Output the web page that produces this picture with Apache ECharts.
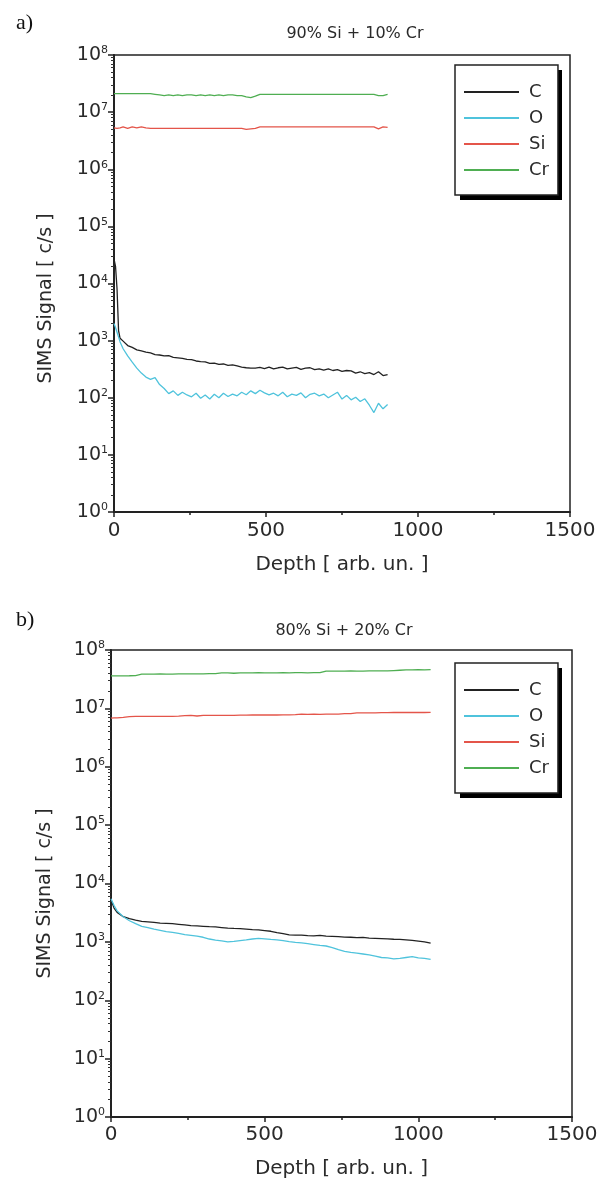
<!DOCTYPE html>
<html>
<head>
<meta charset="utf-8">
<script src="https://cdn.jsdelivr.net/npm/echarts@6/dist/echarts.min.js"></script>
<style>
html,body{margin:0;padding:0;background:#fff;}
#chart{width:607px;height:1179px;}
</style>
</head>
<body>
<div id="chart"></div>
<script>
// ---------- data: panel a) 90% Si + 10% Cr ----------
const depthA = [0,5,10,15,20,30,45,60,75,90,105,120,135,150,165,180,195,210,225,240,255,270,285,300,315,330,345,360,375,390,405,420,435,450,465,480,495,510,525,540,555,570,585,600,615,630,645,660,675,690,705,720,735,750,765,780,795,810,825,840,855,870,885,900];
const cA = [27000,20000,8000,1500,1100,980,820,760,690,660,630,610,570,560,540,545,510,500,490,470,465,440,430,425,400,405,385,390,370,375,360,345,335,330,330,340,325,345,320,335,345,320,330,340,315,330,335,310,320,305,320,300,310,290,300,295,270,285,265,275,255,285,245,255];
const oA = [2000,1700,1400,1150,950,720,540,420,330,270,230,210,225,170,145,118,132,110,125,112,104,120,98,112,95,115,100,120,105,116,108,125,113,132,118,135,122,112,120,108,125,104,116,110,122,100,115,120,108,116,100,112,125,95,110,92,102,86,96,74,55,80,64,76];
const siA = [5.3e6,5.5e6,5.2e6,5.5e6,5.3e6,5.5e6,5.2e6,5.5e6,5.3e6,5.5e6,5.3e6,5.2e6,
  5.2e6,5.2e6,5.2e6,5.2e6,5.2e6,5.2e6,5.2e6,5.2e6,5.2e6,5.2e6,5.2e6,5.2e6,5.2e6,5.2e6,5.2e6,5.2e6,5.2e6,5.2e6,5.2e6,5.2e6,
  5.0e6,5.1e6,5.2e6,5.5e6,
  5.5e6,5.5e6,5.5e6,5.5e6,5.5e6,5.5e6,5.5e6,5.5e6,5.5e6,5.5e6,5.5e6,5.5e6,5.5e6,5.5e6,5.5e6,5.5e6,5.5e6,5.5e6,5.5e6,5.5e6,5.5e6,5.5e6,5.5e6,5.5e6,
  5.5e6,5.1e6,5.5e6,5.4e6];
const crA = [2.1e7,2.1e7,2.1e7,2.1e7,2.1e7,2.1e7,2.1e7,2.1e7,2.1e7,2.1e7,2.1e7,2.1e7,
  2.05e7,2.0e7,1.95e7,2.0e7,1.95e7,2.0e7,1.95e7,2.0e7,2.0e7,1.95e7,2.0e7,1.95e7,2.0e7,1.95e7,2.0e7,1.95e7,2.0e7,2.0e7,1.95e7,1.95e7,
  1.85e7,1.8e7,1.9e7,2.05e7,
  2.05e7,2.05e7,2.05e7,2.05e7,2.05e7,2.05e7,2.05e7,2.05e7,2.05e7,2.05e7,2.05e7,2.05e7,2.05e7,2.05e7,2.05e7,2.05e7,2.05e7,2.05e7,2.05e7,2.05e7,2.05e7,2.05e7,2.05e7,2.05e7,
  2.05e7,1.95e7,1.95e7,2.05e7];

// ---------- data: panel b) 80% Si + 20% Cr ----------
const depthB = [0,10,20,40,60,80,100,120,140,160,180,200,220,240,260,280,300,320,340,360,380,400,420,440,460,480,500,520,540,560,580,600,620,640,660,680,700,720,740,760,780,800,820,840,860,880,900,920,940,960,980,1000,1020,1040];
const cB = [5200,3800,3200,2700,2500,2350,2250,2200,2150,2100,2080,2050,2000,1950,1900,1880,1850,1820,1800,1760,1720,1700,1690,1660,1620,1600,1560,1520,1440,1380,1320,1300,1310,1280,1270,1290,1250,1240,1230,1210,1200,1180,1190,1160,1150,1140,1130,1110,1100,1080,1060,1030,1000,950];
const oB = [5500,4200,3400,2700,2300,2050,1850,1750,1650,1580,1500,1450,1400,1330,1290,1250,1200,1120,1070,1040,1000,1020,1050,1080,1120,1150,1130,1100,1080,1050,1010,980,960,930,900,870,850,800,740,690,660,640,620,600,570,540,530,510,520,540,560,530,520,500];
const siB = [6.8e6,6.9e6,6.9e6,7.0e6,7.2e6,7.3e6,7.3e6,7.3e6,7.3e6,7.3e6,
  7.3e6,7.3e6,7.35e6,7.5e6,7.6e6,7.4e6,7.6e6,7.6e6,7.6e6,7.6e6,
  7.6e6,7.6e6,7.65e6,7.65e6,7.7e6,7.7e6,7.7e6,7.7e6,7.7e6,7.75e6,
  7.75e6,7.8e6,8.0e6,7.9e6,8.0e6,7.9e6,8.0e6,8.0e6,8.0e6,8.1e6,
  8.1e6,8.4e6,8.4e6,8.4e6,8.4e6,8.45e6,8.45e6,8.5e6,8.5e6,8.5e6,
  8.5e6,8.5e6,8.5e6,8.55e6];
const crB = [3.6e7,3.6e7,3.6e7,3.6e7,3.62e7,3.65e7,
  3.85e7,3.85e7,3.85e7,3.9e7,3.85e7,3.85e7,3.9e7,3.9e7,3.9e7,3.9e7,3.9e7,3.95e7,3.95e7,
  4.05e7,4.05e7,4.0e7,4.05e7,4.05e7,4.05e7,4.1e7,4.05e7,4.05e7,4.05e7,4.1e7,4.05e7,4.1e7,4.1e7,4.05e7,4.1e7,4.1e7,
  4.35e7,4.35e7,4.35e7,4.35e7,4.4e7,4.35e7,4.35e7,4.4e7,4.4e7,4.4e7,4.4e7,4.45e7,
  4.5e7,4.55e7,4.55e7,4.6e7,4.55e7,4.6e7];

const seriesNames = ['C','O','Si','Cr'];
const seriesColors = ['#222222','#4fc3dc','#e4554a','#4fae52'];
const xTicks = [0,500,1000,1500];
const panelTitles = ['90% Si + 10% Cr','80% Si + 20% Cr'];
const panelLetters = ['a)','b)'];
const xName = 'Depth [ arb. un. ]';
const yName = 'SIMS Signal [ c/s ]';

const FONT = 'DejaVu Sans';
const TXT = '#2a2a2a';

function zip(d, v){ return d.map((x,i)=>[x, v[i]]); }

function xAxisFor(idx, gap, margin){
  return {
    type:'value', gridIndex: idx, min: xTicks[0], max: xTicks[xTicks.length-1], interval: 500,
    name: xName, nameLocation:'middle', nameGap: gap,
    nameTextStyle:{fontFamily:FONT, fontSize:20, color:TXT},
    axisLine:{show:true, onZero:false, lineStyle:{color:'#222', width:2}},
    axisTick:{show:true, inside:false, length:5, lineStyle:{color:'#222', width:1.5}},
    minorTick:{show:true, splitNumber:2, length:3, lineStyle:{color:'#222', width:1.5}},
    splitLine:{show:false},
    axisLabel:{fontFamily:FONT, fontSize:20, color:TXT, margin: margin, hideOverlap:false,
      formatter: function(v){ return String(v); }}
  };
}
function yAxisFor(idx, gap, shift){
  return {
    type:'log', logBase:10, gridIndex: idx, min:1, max:1e8, splitNumber:8,
    name: yName, nameLocation:'middle', nameGap: gap,
    nameTextStyle:{fontFamily:FONT, fontSize:19, color:TXT, padding:[0, shift, 0, 0]},
    axisLine:{show:true, lineStyle:{color:'#222', width:2}},
    axisTick:{show:true, inside:false, length:6, lineStyle:{color:'#222', width:1.5}},
    minorTick:{show:true, splitNumber:9, length:3, lineStyle:{color:'#333', width:1}},
    splitLine:{show:false},
    axisLabel:{
      margin:6, hideOverlap:false,
      formatter: function(v){ return '{b|10}{s|' + Math.round(Math.log10(v)) + '}'; },
      rich:{
        b:{fontFamily:FONT, fontSize:19, color:TXT, lineHeight:20},
        s:{fontFamily:FONT, fontSize:11, color:TXT, verticalAlign:'top', lineHeight:20}
      }
    }
  };
}
const LEG_W = 102, LEG_H = 130;
function legendFor(top){
  return {
    show:true, orient:'vertical', left:455, top: top,
    data: seriesNames,
    itemWidth:55, itemHeight:14, itemGap:8,
    padding:[18,9,16,8],
    backgroundColor:'#fff', borderColor:'#222', borderWidth:1.5,
    itemStyle:{opacity:0},
    textStyle:{fontFamily:FONT, fontSize:18, color:TXT, padding:[0,0,0,5]},
    selectedMode:false, z:6
  };
}
function legendShadow(top){
  return {type:'rect', left:460, top: top+5, z:5, silent:true,
    shape:{width:LEG_W, height:LEG_H}, style:{fill:'#000'}};
}

const datasetsA = [cA, oA, siA, crA];
const datasetsB = [cB, oB, siB, crB];
const series = [];
seriesNames.forEach((n,i)=>{
  series.push({name:n, type:'line', xAxisIndex:0, yAxisIndex:0, data: zip(depthA, datasetsA[i]),
    symbol:'none', lineStyle:{color:seriesColors[i], width:1.3}, itemStyle:{color:seriesColors[i]}, z: 3});
});
seriesNames.forEach((n,i)=>{
  series.push({name:n, type:'line', xAxisIndex:1, yAxisIndex:1, data: zip(depthB, datasetsB[i]),
    symbol:'none', lineStyle:{color:seriesColors[i], width:1.3}, itemStyle:{color:seriesColors[i]}, z: 3});
});

const chart = echarts.init(document.getElementById('chart'), null, {renderer:'canvas'});
chart.setOption({
  animation:false,
  backgroundColor:'#fff',
  title:[
    {text: panelLetters[0], left:16, top:12, padding:0, textStyle:{fontFamily:'Liberation Serif', fontSize:22, fontWeight:'normal', color:'#111'}},
    {text: panelTitles[0], left:355, top:26, textAlign:'center', padding:0, textStyle:{fontFamily:FONT, fontSize:16, fontWeight:'normal', color:TXT}},
    {text: panelLetters[1], left:16, top:609, padding:0, textStyle:{fontFamily:'Liberation Serif', fontSize:22, fontWeight:'normal', color:'#111'}},
    {text: panelTitles[1], left:344, top:623, textAlign:'center', padding:0, textStyle:{fontFamily:FONT, fontSize:16, fontWeight:'normal', color:TXT}}
  ],
  graphic:[legendShadow(65), legendShadow(663)],
  legend:[legendFor(65), legendFor(663)],
  grid:[
    {left:114, top:55, width:456, height:457, show:true, borderColor:'#222', borderWidth:1.5, backgroundColor:'transparent', containLabel:false, outerBoundsMode:'none'},
    {left:111, top:650, width:461, height:467, show:true, borderColor:'#222', borderWidth:1.5, backgroundColor:'transparent', containLabel:false, outerBoundsMode:'none'}
  ],
  xAxis:[xAxisFor(0, 43, 9), xAxisFor(1, 42, 8)],
  yAxis:[yAxisFor(0, 58, 30), yAxisFor(1, 56, 20)],
  series: series
});
</script>
</body>
</html>
